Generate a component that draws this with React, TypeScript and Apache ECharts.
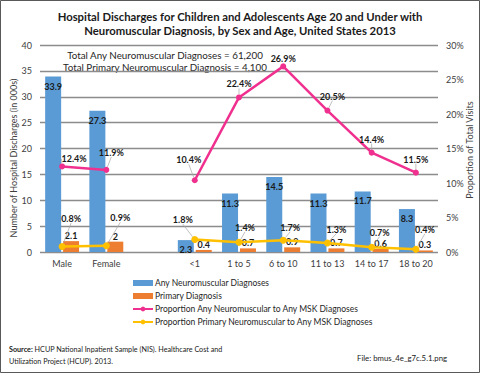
import React, { useEffect, useRef } from "react";
import * as echarts from "echarts";

const categories = ["Male", "Female", "", "<1", "1 to 5", "6 to 10", "11 to 13", "14 to 17", "18 to 20"];
const anyNeuro = [33.9, 27.3, null, 2.3, 11.3, 14.5, 11.3, 11.7, 8.3];
const primaryDx = [2.1, 2, null, 0.4, 0.7, 0.9, 0.7, 0.6, 0.3];
const propAny = [12.4, 11.9, null, 10.4, 22.4, 26.9, 20.5, 14.4, 11.5];
const propPrimary = [0.8, 0.9, null, 1.8, 1.4, 1.7, 1.3, 0.7, 0.4];
const leftTicks = { min: 0, max: 40, interval: 5 };
const rightTicks = { min: 0, max: 30, interval: 5 };

const titleLines = [
  "Hospital Discharges for Children and Adolescents Age 20 and Under with",
  "Neuromuscular Diagnosis, by Sex and Age, United States 2013",
];
const notes = ["Total Any Neuromuscular Diagnoses = 61,200", "Total Primary Neuromuscular Diagnosis = 4,100"];

// label nudges (layout only)
const pinkShift = [[12, 5], [5, -5], [0, 0], [-6, -8], [0, -1], [0, 5], [5, -2], [0, -1], [0, -1]];
const yellowShift = [[9, -15], [14, -15], [0, 0], [-12, -7], [6, -2], [7, 0], [9, -1], [8, -2], [9, -7]];

const FONT = "Lato, 'Open Sans', sans-serif";

export default function App() {
  const ref = useRef<HTMLDivElement>(null);
  useEffect(() => {
    if (!ref.current) return;
    const chart = echarts.init(ref.current, null, { renderer: "svg" });
    const labelBase = { fontFamily: FONT, fontSize: 9, fontWeight: "bold" as const, color: "#1a1a1a" };
    chart.setOption({
      animation: false,
      textStyle: { fontFamily: FONT },
      grid: { left: 40, right: 42, top: 45, bottom: 121 },
      xAxis: {
        type: "category",
        data: categories,
        axisLine: { show: false },
        axisTick: { show: false },
        axisLabel: { fontSize: 9, color: "#404040", margin: 7, fontFamily: FONT, interval: 0 },
      },
      yAxis: [
        {
          type: "value",
          ...leftTicks,
          axisLine: { show: false },
          axisTick: { show: false },
          axisLabel: { fontSize: 9, color: "#404040", margin: 8, fontFamily: FONT },
          splitLine: { lineStyle: { color: "#8c8c8c", width: 1.3 } },
        },
        {
          type: "value",
          ...rightTicks,
          position: "right",
          axisLine: { show: false },
          axisTick: { show: false },
          axisLabel: { fontSize: 9, color: "#404040", margin: 8, formatter: "{value}%", fontFamily: FONT },
          splitLine: { show: false },
        },
      ],
      legend: {
        orient: "vertical",
        left: 127,
        top: 272,
        itemWidth: 20,
        itemHeight: 6,
        itemGap: 1,
        textStyle: { fontSize: 8.5, color: "#262626", fontFamily: FONT, lineHeight: 12, padding: [0, 0, 0, -3] },
        data: [
          { name: "Any Neuromuscular Diagnoses", icon: "rect" },
          { name: "Primary Diagnosis", icon: "rect" },
          "Proportion Any Neuromuscular to Any MSK Diagnoses",
          "Proportion Primary Neuromuscular to Any MSK Diagnoses",
        ],
      },
      series: [
        {
          name: "Any Neuromuscular Diagnoses",
          type: "bar",
          data: anyNeuro,
          barWidth: 16,
          barGap: "12%",
          itemStyle: { color: "#5B9BD5" },
          label: { show: true, position: "insideTop", distance: 5, ...labelBase },
        },
        {
          name: "Primary Diagnosis",
          type: "bar",
          data: primaryDx,
          barWidth: 16,
          itemStyle: { color: "#ED7D31" },
          label: { show: true, position: "top", distance: 1, ...labelBase },
        },
        {
          name: "Proportion Any Neuromuscular to Any MSK Diagnoses",
          type: "line",
          yAxisIndex: 1,
          data: propAny,
          connectNulls: false,
          symbol: "circle",
          symbolSize: 6,
          lineStyle: { color: "#F0308F", width: 2.5 },
          itemStyle: { color: "#F0308F" },
          label: { show: true, position: "top", formatter: "{c}%", ...labelBase },
          labelLine: { show: true, lineStyle: { color: "#a6a6a6", width: 0.7 } },
          labelLayout: (p: any) => ({ dx: pinkShift[p.dataIndex][0], dy: pinkShift[p.dataIndex][1] }),
          z: 5,
        },
        {
          name: "Proportion Primary Neuromuscular to Any MSK Diagnoses",
          type: "line",
          yAxisIndex: 1,
          data: propPrimary,
          connectNulls: false,
          symbol: "circle",
          symbolSize: 7,
          lineStyle: { color: "#FFC000", width: 2.5 },
          itemStyle: { color: "#FFC000" },
          label: { show: true, position: "top", formatter: "{c}%", ...labelBase },
          labelLine: { show: true, lineStyle: { color: "#a6a6a6", width: 0.7 } },
          labelLayout: (p: any) => ({ dx: yellowShift[p.dataIndex][0], dy: yellowShift[p.dataIndex][1] }),
          z: 5,
        },
      ],
      graphic: [
        {
          type: "rect",
          shape: { x: 0.5, y: 0.5, width: 479, height: 372 },
          style: { fill: "none", stroke: "#595959", lineWidth: 1 },
          silent: true,
        },
        ...titleLines.map((t, i) => ({
          type: "text",
          x: 240,
          y: 16 + i * 14,
          style: {
            text: t,
            fontFamily: FONT,
            fontSize: 11.3,
            fontWeight: "bold",
            fill: "#1a1a1a",
            textAlign: "center",
            textVerticalAlign: "middle",
          },
        })),
        ...notes.map((t, i) => ({
          type: "text",
          x: 165,
          y: 55 + i * 11.5,
          style: {
            text: t,
            fontFamily: FONT,
            fontSize: 9.8,
            fill: "#262626",
            textAlign: "center",
            textVerticalAlign: "middle",
          },
        })),
        {
          type: "text",
          x: 13,
          y: 158,
          rotation: Math.PI / 2,
          style: {
            text: "Number of Hospital Discharges (in 000s)",
            fontFamily: FONT,
            fontSize: 9,
            fill: "#404040",
            textAlign: "center",
            textVerticalAlign: "middle",
          },
        },
        {
          type: "text",
          x: 469,
          y: 150,
          rotation: Math.PI / 2,
          style: {
            text: "Proportion of Total Visits",
            fontFamily: FONT,
            fontSize: 9,
            fill: "#404040",
            textAlign: "center",
            textVerticalAlign: "middle",
          },
        },
        {
          type: "text",
          x: 9,
          y: 349,
          style: {
            text: "{b|Source:} HCUP National Inpatient Sample (NIS). Healthcare Cost and",
            fontFamily: FONT,
            fontSize: 7.2,
            fill: "#1a1a1a",
            textVerticalAlign: "middle",
            rich: { b: { fontWeight: "bold", fontFamily: FONT, fontSize: 7.2, fill: "#1a1a1a" } },
          },
        },
        {
          type: "text",
          x: 9,
          y: 361,
          style: {
            text: "Utilization Project (HCUP). 2013.",
            fontFamily: FONT,
            fontSize: 7.2,
            fill: "#1a1a1a",
            textVerticalAlign: "middle",
          },
        },
        {
          type: "text",
          x: 357,
          y: 358,
          style: {
            text: "File: bmus_4e_g7c.5.1.png",
            fontFamily: FONT,
            fontSize: 7.8,
            fill: "#1a1a1a",
            textVerticalAlign: "middle",
          },
        },
      ],
    });
    return () => chart.dispose();
  }, []);
  return (
    <div style={{ position: "fixed", left: 0, top: 0, width: 480, height: 373, background: "#fff" }}>
      <div ref={ref} style={{ width: 480, height: 373 }} />
    </div>
  );
}
